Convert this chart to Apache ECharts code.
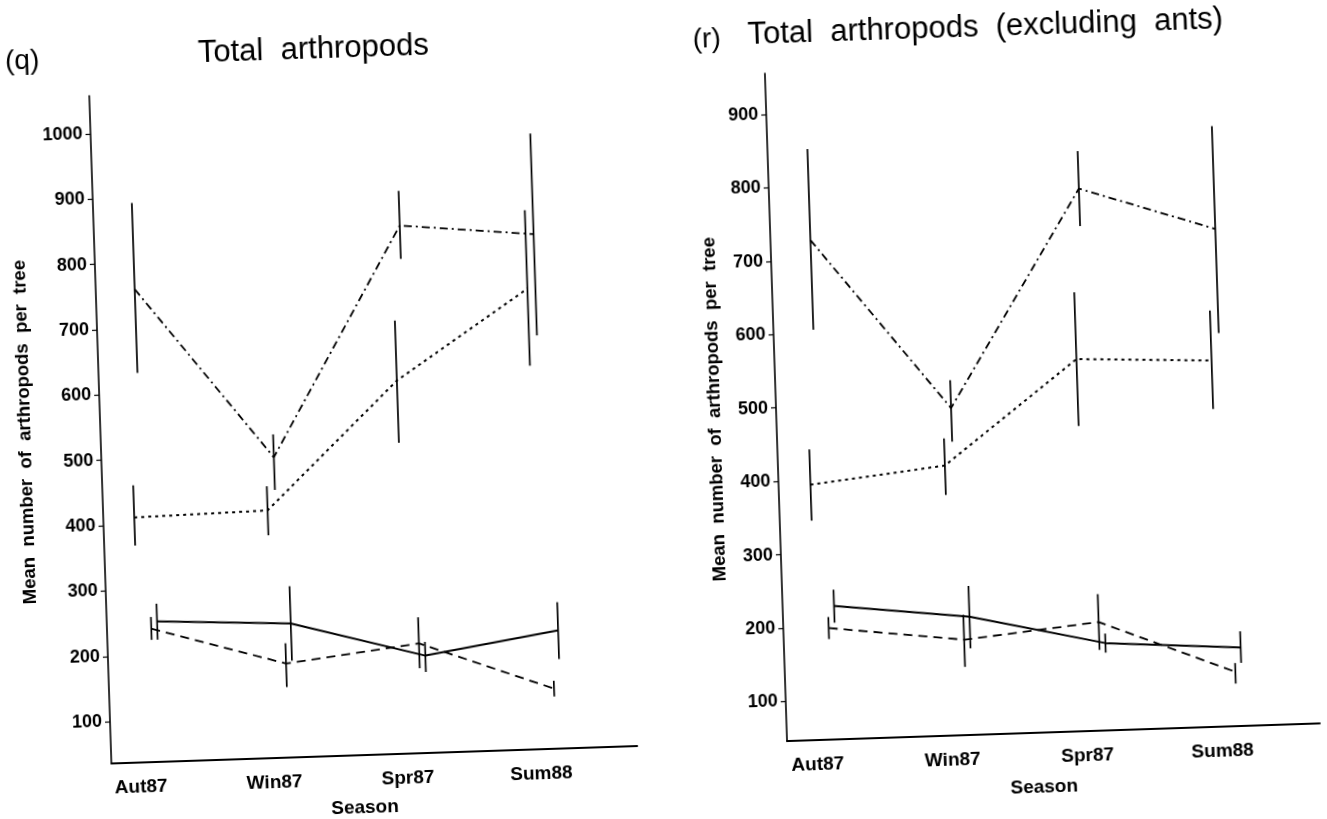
<!DOCTYPE html>
<html>
<head>
<meta charset="utf-8">
<script src="https://cdn.jsdelivr.net/npm/echarts@6/dist/echarts.min.js"></script>
<style>
html,body{margin:0;padding:0;background:#fff;overflow:hidden;}
#c{width:1327px;height:819px;transform:rotate(-1.9deg);transform-origin:663px 410px;}
</style>
</head>
<body>
<div id="c"></div>
<script>
// ---- data ----
const seasons = ['Aut87', 'Win87', 'Spr87', 'Sum88'];
const yTicksQ = [100, 200, 300, 400, 500, 600, 700, 800, 900, 1000];
const yTicksR = [100, 200, 300, 400, 500, 600, 700, 800, 900];

// panel (q) Total arthropods
const qDashDotMean = [760, 496, 844, 824];
const qDashDotLow  = [632, 446, 793, 669];
const qDashDotHigh = [892, 531, 897, 978];
const qDottedMean  = [411, 415, 607, 741];
const qDottedLow   = [368, 377, 512, 623];
const qDottedHigh  = [460, 452, 699, 861];
const qSolidMean   = [251, 241, 185, 217];
const qSolidLow    = [223, 184, 160, 173];
const qSolidHigh   = [278, 298, 206, 260];
const qDashedMean  = [240, 180, 204, 128];
const qDashedLow   = [223, 144, 166, 116];
const qDashedHigh  = [258, 211, 244, 140];

// panel (r) Total arthropods (excluding ants)
const rDashDotMean = [727, 492, 785, 724];
const rDashDotLow  = [605, 446, 734, 582];
const rDashDotHigh = [851, 530, 836, 864];
const rDottedMean  = [394, 414, 553, 545];
const rDottedLow   = [345, 374, 462, 479];
const rDottedHigh  = [442, 451, 644, 613];
const rSolidMean   = [228, 207, 165, 153];
const rSolidLow    = [205, 164, 152, 132];
const rSolidHigh   = [250, 249, 178, 175];
const rDashedMean  = [198, 176, 194, 120];
const rDashedLow   = [183, 139, 156, 104];
const rDashedHigh  = [213, 210, 232, 132];

// ---- styles ----
const FONT = '"Liberation Sans", Arial, Helvetica, sans-serif';
const styles = {
  dashdot: { dash: [8, 4, 2, 4], off: -0.015, width: 1.8 },
  dotted:  { dash: [3, 4],       off: -0.075, width: 2 },
  solid:   { dash: 'solid',      off: 0.07,   width: 2 },
  dashed:  { dash: [9, 6],       off: 0.025,  width: 1.8 }
};

const panels = [
  { grid: 0, sets: [
    ['dashdot', qDashDotMean, qDashDotLow, qDashDotHigh],
    ['dotted',  qDottedMean,  qDottedLow,  qDottedHigh],
    ['solid',   qSolidMean,   qSolidLow,   qSolidHigh],
    ['dashed',  qDashedMean,  qDashedLow,  qDashedHigh]
  ]},
  { grid: 1, sets: [
    ['dashdot', rDashDotMean, rDashDotLow, rDashDotHigh],
    ['dotted',  rDottedMean,  rDottedLow,  rDottedHigh],
    ['solid',   rSolidMean,   rSolidLow,   rSolidHigh],
    ['dashed',  rDashedMean,  rDashedLow,  rDashedHigh]
  ]}
];

const series = [];
panels.forEach(p => {
  p.sets.forEach(([kind, mean, low, high]) => {
    const st = styles[kind];
    series.push({
      type: 'line',
      xAxisIndex: p.grid, yAxisIndex: p.grid,
      data: mean.map((v, i) => [i + st.off, v]),
      showSymbol: false, symbol: 'none', silent: true,
      lineStyle: { color: '#000', width: st.width, type: st.dash },
      z: 3
    });
    series.push({
      type: 'custom',
      xAxisIndex: p.grid, yAxisIndex: p.grid,
      data: low.map((v, i) => [i + st.off, v, high[i]]),
      encode: { x: 0, y: [1, 2] },
      silent: true,
      renderItem: function (params, api) {
        const a = api.coord([api.value(0), api.value(1)]);
        const b = api.coord([api.value(0), api.value(2)]);
        return { type: 'line', shape: { x1: a[0], y1: a[1], x2: b[0], y2: b[1] },
                 style: { stroke: '#000', lineWidth: 1.7 } };
      },
      z: 4
    });
  });
});

function xAxisCfg(idx, min, max, gap) {
  return {
    type: 'value', gridIndex: idx, min: min, max: max,
    name: 'Season', nameLocation: 'middle', nameGap: gap,
    nameTextStyle: { fontFamily: FONT, fontSize: 19, fontWeight: 'bold', color: '#000',
                     padding: [0, 22, 0, 0] },
    axisLine: { show: true, onZero: false, lineStyle: { color: '#000', width: 2 } },
    axisTick: { show: false },
    splitLine: { show: false },
    axisLabel: {
      customValues: [0, 1, 2, 3],
      formatter: v => seasons[Math.round(v)] || '',
      margin: 15, padding: [0, 24, 0, 0],
      fontFamily: FONT, fontSize: 19, fontWeight: 'bold', color: '#000'
    }
  };
}
function yAxisCfg(idx, min, max, ticks, gap) {
  return {
    type: 'value', gridIndex: idx, min: min, max: max,
    name: 'Mean  number  of  arthropods  per  tree', nameLocation: 'middle', nameGap: gap,
    nameRotate: 90,
    nameTextStyle: { fontFamily: FONT, fontSize: 18.5, fontWeight: 'bold', color: '#000' },
    axisLine: { show: true, onZero: false, lineStyle: { color: '#000', width: 1.6 } },
    axisTick: { show: true, customValues: ticks, length: 5, lineStyle: { color: '#000', width: 1.2 } },
    splitLine: { show: false },
    axisLabel: {
      customValues: ticks, margin: 8,
      formatter: v => String(Math.round(v)),
      fontFamily: FONT, fontSize: 18, fontWeight: 'bold', color: '#000'
    }
  };
}

const chart = echarts.init(document.getElementById('c'), null, { renderer: 'canvas' });
chart.setOption({
  backgroundColor: '#fff',
  animation: false,
  title: [
    { text: '(q)', left: 17, top: 26, padding: 0,
      textStyle: { fontFamily: FONT, fontSize: 28, fontWeight: 'normal', color: '#000' } },
    { text: 'Total  arthropods', left: 210, top: 23, padding: 0,
      textStyle: { fontFamily: FONT, fontSize: 31, fontWeight: 'normal', color: '#000' } },
    { text: '(r)', left: 705, top: 27, padding: 0,
      textStyle: { fontFamily: FONT, fontSize: 28, fontWeight: 'normal', color: '#000' } },
    { text: 'Total  arthropods  (excluding  ants)', left: 760, top: 23, padding: 0,
      textStyle: { fontFamily: FONT, fontSize: 31, fontWeight: 'normal', color: '#000' } }
  ],
  grid: [
    { left: 100, top: 77, width: 526, height: 668 },
    { left: 776, top: 77, width: 533, height: 668 }
  ],
  xAxis: [ xAxisCfg(0, -0.307, 3.633, 43), xAxisCfg(1, -0.311, 3.637, 45) ],
  yAxis: [ yAxisCfg(0, 36, 1058, yTicksQ, 66), yAxisCfg(1, 46, 956, yTicksR, 52) ],
  series: series
});
</script>
</body>
</html>
